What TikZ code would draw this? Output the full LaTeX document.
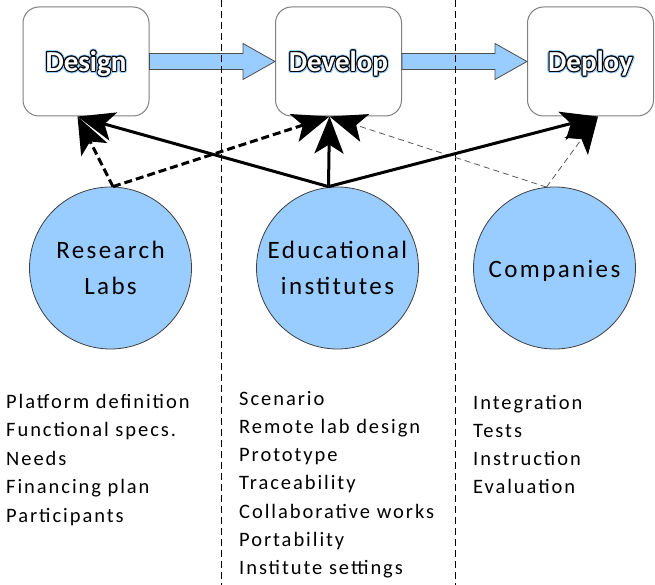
\documentclass[tikz,border=0pt]{standalone}
\usepackage{fontspec}
\setmainfont{Carlito}
\newfontfamily\spaced[LetterSpace=9.5]{Carlito}
\usetikzlibrary{arrows.meta,calc}
\definecolor{lblue}{HTML}{99CCFF}
\definecolor{boxgray}{HTML}{7F7F7F}
\newcommand\olay[3]{\foreach \a in {0,30,...,330}{\pgfmathsetlengthmacro\dx{#2*cos(\a)}\pgfmathsetlengthmacro\dy{#2*sin(\a)}\makebox[0pt][l]{\kern\dx\raisebox{\dy}{\color{#1}#3}}}}
\newcommand\outlined[1]{\olay{lblue}{2.2pt}{#1}\olay{black}{1pt}{#1}\textcolor{white}{#1}}
\tikzset{
 box/.style={draw=boxgray, line width=1pt, rounded corners=16pt, minimum width=126pt, minimum height=109pt, fill=white, inner sep=0pt},
 actor/.style={circle, draw=black!75, line width=0.8pt, fill=lblue, minimum size=162pt, inner sep=0pt, align=center, font=\fontsize{25}{36}\spaced},
 blockarrow/.style={draw=black!70, line width=0.8pt, fill=lblue, line join=miter},
 big/.style={-{Stealth[length=37pt,width=29pt,inset=9pt,color=black]}},
 solidarrow/.style={big, line width=3pt},
 dasharrow/.style={big, line width=3pt, dash pattern=on 8pt off 4pt},
 thinarrow/.style={big, line width=0.8pt, draw=black!65, dash pattern=on 6pt off 4pt},
 divider/.style={line width=0.8pt, dash pattern=on 7pt off 4pt},
 item/.style={anchor=base west, inner sep=0pt, font=\fontsize{20.5}{24}\spaced},
 heading/.style={anchor=base, inner sep=0pt, font=\fontsize{29}{30}\selectfont\bfseries}
}
\begin{document}
\begin{tikzpicture}[x=1pt,y=-1pt]
\useasboundingbox (0,0) rectangle (655,585);
% phase boxes
\node[box] (design) at (86,61.5) {};
\node[box] (develop) at (338.5,61.5) {};
\node[box] (deploy) at (590.5,61.5) {};
\node[heading] (tdesign) at ($(design.center)+(0,10)$) {\outlined{Design}};
\node[heading] (tdevelop) at ($(develop.center)+(0,10)$) {\outlined{Develop}};
\node[heading] (tdeploy) at ($(deploy.center)+(0,10)$) {\outlined{Deploy}};
% block arrows
\draw[blockarrow] ([yshift=8pt]design.east) -- ([xshift=-32pt,yshift=8pt]develop.west) -- ([xshift=-32pt,yshift=18pt]develop.west) -- (develop.west) -- ([xshift=-32pt,yshift=-18pt]develop.west) -- ([xshift=-32pt,yshift=-8pt]develop.west) -- ([yshift=-8pt]design.east) -- cycle;
\draw[blockarrow] ([yshift=8pt]develop.east) -- ([xshift=-32pt,yshift=8pt]deploy.west) -- ([xshift=-32pt,yshift=18pt]deploy.west) -- (deploy.west) -- ([xshift=-32pt,yshift=-18pt]deploy.west) -- ([xshift=-32pt,yshift=-8pt]deploy.west) -- ([yshift=-8pt]develop.east) -- cycle;
% dividers
\coordinate (d1t) at (221,0); \coordinate (d1b) at (221,585);
\coordinate (d2t) at (455,0); \coordinate (d2b) at (455,585);
\draw[divider] (d1t) -- (d1b);
\draw[divider] (d2t) -- (d2b);
% actors
\node[actor] (research) at (110.5,268) {Research\\Labs};
\node[actor] (edu) at (337.5,268) {Educational\\institutes};
\node[actor, text height=19pt, text depth=0pt] (comp) at (554.5,268) {Companies};
% connectors
\coordinate (rtop) at ([xshift=2.5pt]research.north);
\coordinate (etop) at ([xshift=-9pt]edu.north);
\coordinate (ctop) at ([xshift=-8pt,yshift=-0.5pt]comp.north);
\coordinate (dsin) at ([xshift=-8.5pt]design.south);
\coordinate (dvin) at ([xshift=-9pt]develop.south);
\coordinate (dpin) at ([xshift=7.5pt]deploy.south);
\draw[thinarrow] (ctop) -- (dvin);
\draw[thinarrow] (ctop) -- (dpin);
\draw[dasharrow] (rtop) -- (dsin);
\draw[dasharrow] (rtop) -- (dvin);
\draw[solidarrow] (etop) -- (dsin);
\draw[solidarrow] (etop) -- (dvin);
\draw[solidarrow] (etop) -- (dpin);
% lists
\foreach \t [count=\i from 0] in {Platform definition,Functional specs.,Needs,Financing plan,Participants}
  \node[item] (la\i) at (6,408+28.5*\i) {\t};
\foreach \t [count=\i from 0] in {Scenario,Remote lab design,Prototype,Traceability,Collaborative works,Portability,Institute settings}
  \node[item] (lb\i) at (239,405+28.33*\i) {\t};
\foreach \t [count=\i from 0] in {Integration,Tests,Instruction,Evaluation}
  \node[item] (lc\i) at (473,409+28.33*\i) {\t};
\end{tikzpicture}
\end{document}
